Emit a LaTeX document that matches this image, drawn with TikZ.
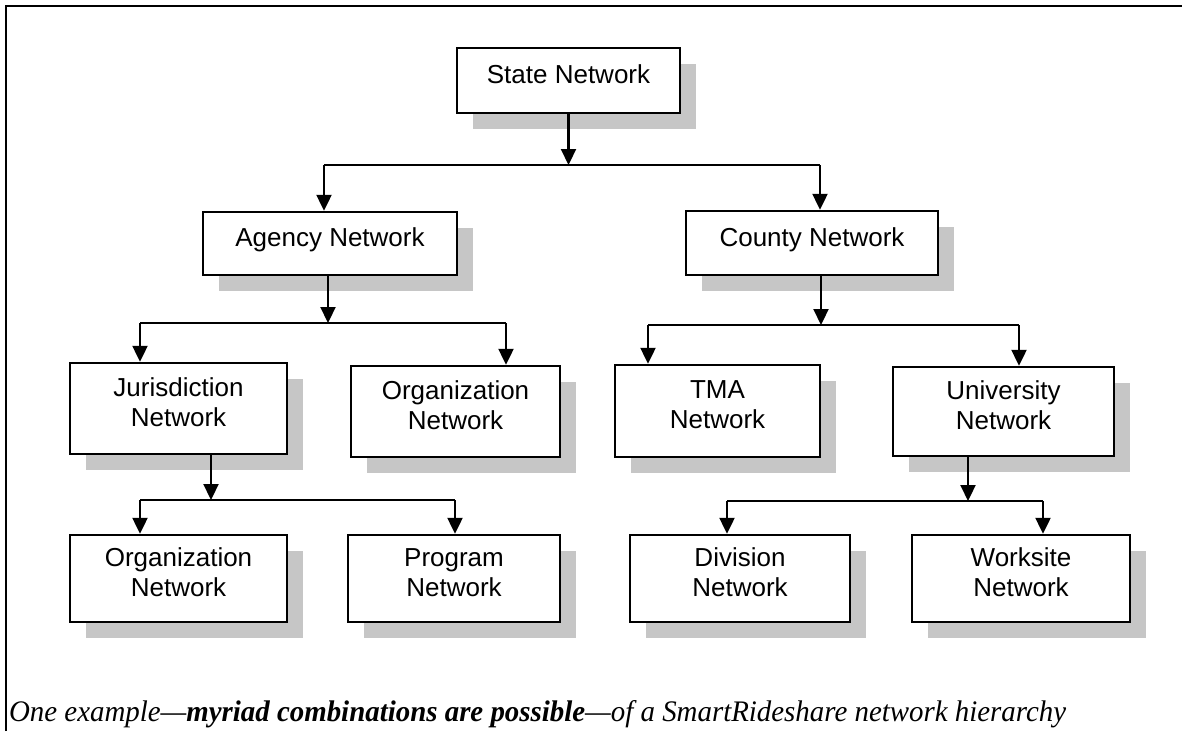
\documentclass[tikz,border=0pt]{standalone}
\usepackage{graphicx}
\usepackage{fontspec}
\setmainfont{Liberation Sans}
\newfontfamily\captionfont{Liberation Serif}
\usetikzlibrary{arrows.meta,shadows}
\begin{document}
\begin{tikzpicture}[x=1pt,y=-1pt,line width=2.2pt,
  netbox/.style={draw,fill=white,line width=2.4pt,align=center,inner sep=0pt,
    font=\fontsize{26}{30}\selectfont,text depth=12pt,
    drop shadow={shadow xshift=16pt,shadow yshift=-16pt,fill=gray!45,opacity=1}},
  arr/.style={-{Triangle[width=15pt,length=16pt]}}]
 \useasboundingbox (0,0) rectangle (1182,731);
 \draw[line width=2.4pt] (6,731) -- (6,6) -- (1182,6);
 \node[netbox,minimum width=223pt,minimum height=65pt] (state) at (568.5,80.5) {State Network};
 \node[netbox,minimum width=254pt,minimum height=63pt] (agency) at (330,243.5) {Agency Network};
 \node[netbox,minimum width=252pt,minimum height=64pt] (county) at (812,243) {County Network};
 \node[netbox,minimum width=217pt,minimum height=91pt] (jur) at (178.5,408.5) {Jurisdiction\\Network};
 \node[netbox,minimum width=209pt,minimum height=91pt] (orga) at (455.5,411.5) {Organization\\Network};
 \node[netbox,minimum width=205pt,minimum height=92pt] (tma) at (717.5,411) {TMA\\Network};
 \node[netbox,minimum width=221pt,minimum height=89pt] (uni) at (1003.5,411.5) {University\\Network};
 \node[netbox,minimum width=217pt,minimum height=87pt] (orgb) at (178.5,578.5) {Organization\\Network};
 \node[netbox,minimum width=212pt,minimum height=87pt] (prog) at (454,578.5) {Program\\Network};
 \node[netbox,minimum width=220pt,minimum height=87pt] (div) at (740,578.5) {Division\\Network};
 \node[netbox,minimum width=218pt,minimum height=87pt] (work) at (1021,578.5) {Worksite\\Network};
 \coordinate (s1) at (568.5,165);
 \coordinate (l1) at (324,165);
 \coordinate (r1) at (820,165);
 \draw[arr] (state.south -| s1) -- (s1);
 \draw (l1) -- (r1);
 \draw[arr] (l1) -- (l1 |- agency.north);
 \draw[arr] (r1) -- (r1 |- county.north);
 \coordinate (s2) at (328,323);
 \coordinate (l2) at (140,323);
 \coordinate (r2) at (506,323);
 \draw[arr] (agency.south -| s2) -- (s2);
 \draw (l2) -- (r2);
 \draw[arr] (l2) -- (l2 |- jur.north);
 \draw[arr] (r2) -- (r2 |- orga.north);
 \coordinate (s3) at (821,325);
 \coordinate (l3) at (648,325);
 \coordinate (r3) at (1019,325);
 \draw[arr] (county.south -| s3) -- (s3);
 \draw (l3) -- (r3);
 \draw[arr] (l3) -- (l3 |- tma.north);
 \draw[arr] (r3) -- (r3 |- uni.north);
 \coordinate (s4) at (211,500);
 \coordinate (l4) at (140,500);
 \coordinate (r4) at (455,500);
 \draw[arr] (jur.south -| s4) -- (s4);
 \draw (l4) -- (r4);
 \draw[arr] (l4) -- (l4 |- orgb.north);
 \draw[arr] (r4) -- (r4 |- prog.north);
 \coordinate (s5) at (968,501);
 \coordinate (l5) at (727,501);
 \coordinate (r5) at (1043,501);
 \draw[arr] (uni.south -| s5) -- (s5);
 \draw (l5) -- (r5);
 \draw[arr] (l5) -- (l5 |- div.north);
 \draw[arr] (r5) -- (r5 |- work.north);
 \node[anchor=base west,inner sep=0pt] (caption) at (8,721) {\resizebox{1057pt}{21pt}{\captionfont\itshape One example—\textbf{myriad combinations are possible}—of a SmartRideshare network hierarchy}};
\end{tikzpicture}
\end{document}
